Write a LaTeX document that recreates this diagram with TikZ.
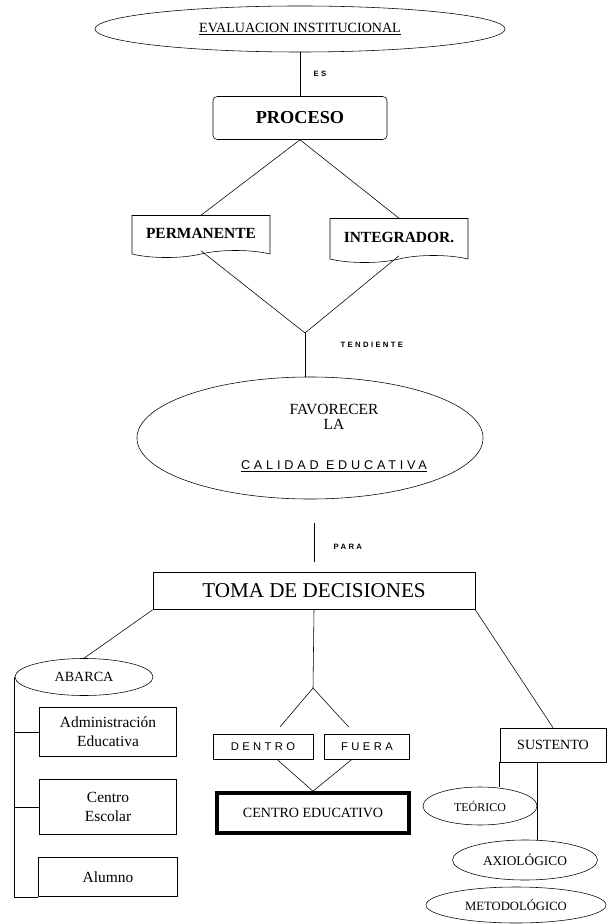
\documentclass[tikz,border=0pt]{standalone}
\usepackage{fontspec}
\setmainfont{Liberation Serif}
\newfontfamily\spacedsans[LetterSpace=30]{Liberation Sans}
\usetikzlibrary{shapes.geometric,shapes.symbols}

\begin{document}
\begin{tikzpicture}[x=0.025cm,y=-0.025cm,
    box/.style={draw,inner sep=1pt,align=center},
    oval/.style={draw,ellipse,inner sep=0pt,align=center},
    wavy/.style={draw,tape,tape bend top=none,tape bend height=5pt,inner sep=1pt,font=\bfseries\fontsize{11}{13}\selectfont},
    small/.style={font=\spacedsans\bfseries\fontsize{5.5}{6}\selectfont,inner sep=1pt}]

    \useasboundingbox (0,0) rectangle (607,924);

    \node[oval,minimum width=10.25cm,minimum height=1.15cm,font=\fontsize{10}{12}\selectfont] (evaluacion) at (300,29) {\underline{EVALUACION INSTITUCIONAL}};
    \node[box,rounded corners=3pt,minimum width=4.35cm,minimum height=1.075cm,font=\bfseries\fontsize{13}{15}\selectfont] (proceso) at (300,118) {PROCESO};
    \node[wavy,minimum width=3.45cm,minimum height=1.05cm] (permanente) at (201,233) {PERMANENTE};
    \node[wavy,minimum width=3.45cm,minimum height=1.1cm] (integrador) at (399,237) {INTEGRADOR.};
    \node[oval,minimum width=8.65cm,minimum height=3.05cm,font=\fontsize{11}{11}\selectfont] (favorecer) at (310,438)
        {\hspace*{1.2cm}FAVORECER\\\hspace*{1.2cm}LA\\[17pt]\hspace*{1.2cm}{\spacedsans\fontsize{9}{9}\selectfont\underline{CALIDAD EDUCATIVA}}};
    \node[box,minimum width=8.05cm,minimum height=0.925cm,font=\fontsize{15}{18}\selectfont] (toma) at (314,591) {TOMA DE DECISIONES};

    \node[oval,minimum width=3.45cm,minimum height=0.925cm,font=\fontsize{10}{12}\selectfont] (abarca) at (84,677) {ABARCA};
    \node[box,minimum width=3.425cm,minimum height=1.225cm,font=\fontsize{11}{13.5}\selectfont] (admin) at (108,732) {Administración\\Educativa};
    \node[box,minimum width=3.425cm,minimum height=1.375cm,font=\fontsize{11}{14}\selectfont] (escolar) at (108,807) {Centro\\Escolar};
    \node[box,minimum width=3.475cm,minimum height=0.975cm,font=\fontsize{11}{13}\selectfont] (alumno) at (108,877) {Alumno};

    \node[box,minimum width=2.5cm,minimum height=0.625cm,font=\spacedsans\fontsize{8}{9}\selectfont] (dentro) at (263,747) {DENTRO};
    \node[box,minimum width=2.125cm,minimum height=0.625cm,font=\spacedsans\fontsize{8}{9}\selectfont] (fuera) at (367,747) {FUERA};
    \node[box,line width=2.5pt,minimum width=4.8cm,minimum height=1.0cm,font=\fontsize{10}{12}\selectfont] (cedu) at (313,813) {CENTRO EDUCATIVO};

    \node[box,minimum width=2.65cm,minimum height=0.85cm,font=\fontsize{10}{12}\selectfont] (sustento) at (553,745) {SUSTENTO};
    \node[oval,minimum width=2.85cm,minimum height=0.95cm,font=\fontsize{8.5}{10}\selectfont] (teorico) at (480,806) {TEÓRICO};
    \node[oval,minimum width=3.625cm,minimum height=1.0cm,font=\fontsize{9.5}{11}\selectfont] (axiologico) at (525,860) {AXIOLÓGICO};
    \node[oval,minimum width=4.5cm,minimum height=0.9cm,font=\fontsize{9}{11}\selectfont] (metodologico) at (516,905) {METODOLÓGICO};

    \coordinate (vtend) at (305,333);
    \coordinate (vdec) at (313,688);

    \draw (evaluacion.south) -- (proceso.north) node[small,midway,right=0.3cm] {ES};
    \draw (proceso.south) -- (permanente.north);
    \draw (proceso.south) -- (integrador.north);
    \draw (permanente.south) -- (vtend);
    \draw (integrador.south) -- (vtend);
    \draw (vtend) -- (vtend |- favorecer.north) node[small,pos=0.27,right=0.85cm] {TENDIENTE};
    \draw[shorten <=17pt,shorten >=7pt] (toma.north |- favorecer.south) -- (toma.north) node[small,pos=0.65,right=0.45cm] {PARA};

    \draw (toma.south west) -- (abarca.north);
    \draw (abarca.west) |- (alumno.south west);
    \draw (admin.west) -- (admin.west -| abarca.west);
    \draw (escolar.west) -- (escolar.west -| abarca.west);

    \draw (toma.south) -- (vdec);
    \draw[shorten >=7pt] (vdec) -- (dentro);
    \draw[shorten >=7pt] (vdec) -- (fuera);
    \draw (dentro) -- (cedu.north);
    \draw (fuera) -- (cedu.north);

    \draw (toma.south east) -- (sustento.north);
    \draw (sustento.south west) -- (sustento.south west |- teorico.north);
    \draw (teorico.east |- sustento.south) -- (teorico.east |- axiologico.north);
\end{tikzpicture}
\end{document}
